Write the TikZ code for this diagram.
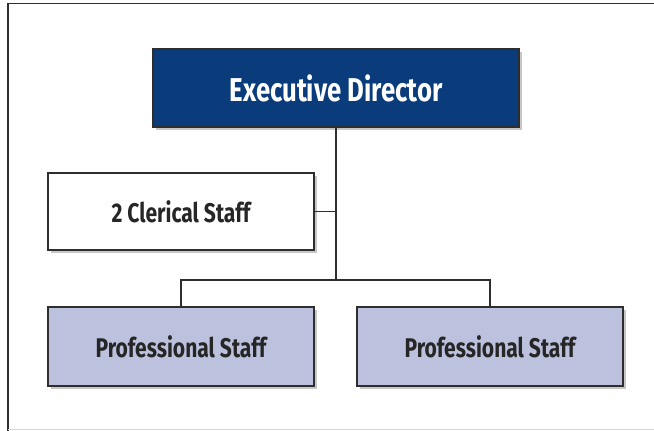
\documentclass[tikz,border=0pt]{standalone}
\usepackage{fontspec}
\setmainfont[FakeStretch=0.78]{Fira Sans}
\usetikzlibrary{shadows}
\definecolor{edblue}{HTML}{0A3C7C}
\definecolor{lav}{HTML}{BCC2DD}
\definecolor{edge}{HTML}{2E2E2E}
\tikzset{
  orgbox/.style={draw=edge, line width=1.6pt, minimum width=266pt, minimum height=77pt,
    inner sep=0pt, font=\fontsize{27}{30}\selectfont\bfseries\color{black!85},
    drop shadow={shadow xshift=3pt, shadow yshift=-3pt, opacity=0.22, fill=black}},
  topbox/.style={orgbox, fill=edblue, minimum width=366pt, minimum height=78pt,
    font=\fontsize{33}{36}\selectfont\bfseries\color{white}},
  conn/.style={draw=edge, line width=1.3pt}
}
\begin{document}
\begin{tikzpicture}[x=1pt,y=-1pt]
\useasboundingbox (0,0) rectangle (654,431);
\fill[white] (0,0) rectangle (654,431);
\draw[edge, line width=1.3pt] (8,431) -- (8,3.5) -- (654,3.5);
\draw[black!15, line width=0.6pt] (8,429) -- (654,429);
\node[topbox] (ed) at (336,88) {Executive Director};
\node[orgbox, fill=white] (cl) at (181,211.5) {2 Clerical Staff};
\node[orgbox, fill=lav, minimum height=79pt] (p1) at (181,346.5) {Professional Staff};
\node[orgbox, fill=lav, minimum height=79pt] (p2) at (490,346.5) {Professional Staff};
\coordinate (j) at (336,280);
\draw[conn] (ed.south -| j) -- (j);
\draw[conn] (cl.east) -- (cl.east -| j);
\draw[conn] (p1.north) -- (p1.north |- j) -- (p2.north |- j) -- (p2.north);
\end{tikzpicture}
\end{document}
